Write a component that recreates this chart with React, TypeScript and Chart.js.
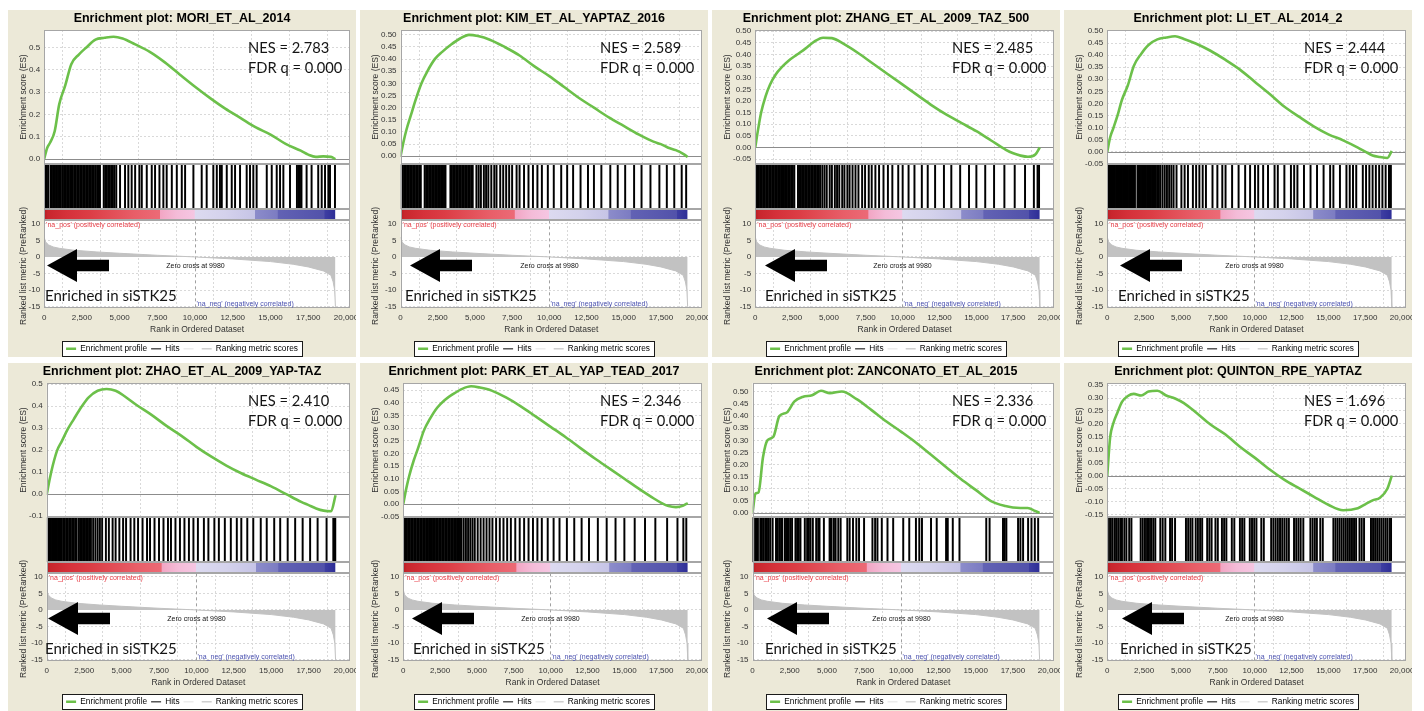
import React, { useEffect, useRef } from 'react';
import { Chart, registerables } from 'chart.js';

Chart.register(...registerables);
Chart.defaults.font.family = '"Liberation Sans", Arial, Helvetica, sans-serif';

// ---------------- data ----------------
const RANKED_LIST_SIZE = 19300;
const X_AXIS_MAX = 20265;
const ZERO_CROSS = 9980;
const xTickValues = [0, 2500, 5000, 7500, 10000, 12500, 15000, 17500, 20000];
const metricTickValues = [10, 5, 0, -5, -10, -15];

const geneSetNames = [
  'MORI_ET_AL_2014', 'KIM_ET_AL_YAPTAZ_2016', 'ZHANG_ET_AL_2009_TAZ_500', 'LI_ET_AL_2014_2',
  'ZHAO_ET_AL_2009_YAP-TAZ', 'PARK_ET_AL_YAP_TEAD_2017', 'ZANCONATO_ET_AL_2015', 'QUINTON_RPE_YAPTAZ',
];
const nesValues = ['2.783', '2.589', '2.485', '2.444', '2.410', '2.346', '2.336', '1.696'];
const fdrValues = ['0.000', '0.000', '0.000', '0.000', '0.000', '0.000', '0.000', '0.000'];

// running enrichment score, sampled at these ranks
const esRanks = [0, 200, 400, 700, 1000, 1400, 1800, 2300, 2800, 3400, 4000, 4600, 5200, 6000, 7000, 8000, 9000, 10000, 11000, 12000, 13000, 14000, 15000, 16000, 17000, 17500, 18000, 18500, 19000, 19300];
const moriES = [0, 0.05, 0.074, 0.125, 0.245, 0.33, 0.425, 0.468, 0.5, 0.535, 0.543, 0.548, 0.54, 0.515, 0.48, 0.433, 0.378, 0.324, 0.273, 0.226, 0.185, 0.143, 0.11, 0.068, 0.038, 0.02, 0.01, 0.012, 0.01, 0.0];
const kimES = [0, 0.06, 0.11, 0.17, 0.23, 0.3, 0.35, 0.4, 0.43, 0.46, 0.485, 0.5, 0.495, 0.48, 0.45, 0.415, 0.37, 0.33, 0.285, 0.24, 0.2, 0.16, 0.125, 0.09, 0.06, 0.05, 0.035, 0.025, 0.01, -0.003];
const zhangES = [0, 0.08, 0.15, 0.22, 0.27, 0.315, 0.345, 0.375, 0.398, 0.425, 0.455, 0.472, 0.47, 0.445, 0.405, 0.36, 0.315, 0.27, 0.225, 0.18, 0.14, 0.105, 0.07, 0.03, -0.01, -0.025, -0.035, -0.04, -0.03, 0];
const liES = [0, 0.06, 0.095, 0.15, 0.215, 0.275, 0.355, 0.405, 0.442, 0.465, 0.473, 0.478, 0.467, 0.448, 0.418, 0.381, 0.34, 0.29, 0.24, 0.187, 0.145, 0.105, 0.072, 0.047, 0.017, 0.0, -0.016, -0.022, -0.026, 0.003];
const zhaoES = [0, 0.07, 0.13, 0.2, 0.24, 0.295, 0.34, 0.395, 0.44, 0.47, 0.478, 0.47, 0.445, 0.405, 0.36, 0.31, 0.265, 0.215, 0.17, 0.13, 0.095, 0.065, 0.035, 0.0, -0.035, -0.05, -0.065, -0.075, -0.078, -0.005];
const parkES = [0, 0.06, 0.11, 0.17, 0.22, 0.29, 0.335, 0.38, 0.41, 0.435, 0.455, 0.465, 0.46, 0.448, 0.42, 0.385, 0.345, 0.305, 0.265, 0.222, 0.18, 0.14, 0.1, 0.06, 0.022, 0.005, -0.008, -0.012, -0.006, 0.004];
const zanconatoES = [0, 0.08, 0.085, 0.23, 0.3, 0.315, 0.4, 0.415, 0.46, 0.48, 0.486, 0.505, 0.495, 0.502, 0.47, 0.425, 0.378, 0.335, 0.29, 0.24, 0.19, 0.14, 0.095, 0.05, 0.028, 0.022, 0.02, 0.02, 0.008, 0.0];
const quintonES = [0, 0.15, 0.2, 0.245, 0.285, 0.308, 0.316, 0.31, 0.325, 0.328, 0.31, 0.298, 0.28, 0.245, 0.198, 0.16, 0.112, 0.07, 0.025, -0.015, -0.048, -0.08, -0.112, -0.133, -0.125, -0.11, -0.095, -0.085, -0.05, 0.0];

// hit positions (rank of each gene-set member)
const moriHits = [60, 160, 260, 420, 520, 620, 720, 820, 920, 1020, 1110, 1220, 1320, 1420, 1520, 1620, 1720, 1820, 1900, 2000, 2100, 2200, 2300, 2400, 2500, 2600, 2700, 2800, 2900, 3000, 3100, 3200, 3300, 3420, 3520, 3620, 3700, 3950, 4050, 4150, 4250, 4350, 4450, 4550, 4650, 4780, 5030, 5360, 5580, 5800, 6030, 6310, 6470, 6800, 7130, 7350, 7640, 7900, 8120, 8460, 8790, 9120, 9340, 9890, 10440, 10770, 11210, 11440, 11650, 11770, 12100, 12430, 12650, 12980, 13420, 13640, 13860, 14080, 14750, 15080, 15410, 15630, 15850, 16290, 16750, 16850, 16950, 17050, 17390, 17720, 18160, 18390, 18610, 18830, 18940, 19270];
const kimHits = [60, 160, 260, 360, 460, 560, 660, 760, 860, 960, 1060, 1160, 1260, 1360, 1620, 1720, 1820, 1920, 2020, 2120, 2220, 2320, 2420, 2520, 2620, 2720, 2820, 2920, 3020, 3350, 3450, 3550, 3650, 3750, 3850, 3950, 4050, 4150, 4250, 4350, 4450, 4550, 4650, 4750, 4850, 5100, 5250, 5400, 5600, 5750, 5900, 6100, 6300, 6450, 6700, 6900, 7100, 7300, 7500, 7800, 8000, 8300, 8600, 8900, 9200, 9500, 9900, 10300, 10800, 11200, 11600, 12100, 12600, 13000, 13500, 14100, 14600, 15100, 15700, 16200, 16800, 17400, 17900, 18400, 18900, 19200];
const zhangHits = [50, 150, 250, 350, 450, 550, 650, 750, 850, 950, 1050, 1150, 1250, 1350, 1450, 1550, 1650, 1750, 1850, 1950, 2050, 2150, 2250, 2350, 2450, 2550, 2650, 2900, 3000, 3100, 3200, 3300, 3400, 3500, 3600, 3700, 3800, 3900, 4000, 4100, 4200, 4300, 4400, 4550, 4700, 4850, 5050, 5200, 5400, 5550, 5700, 5900, 6050, 6250, 6400, 6600, 6800, 7000, 7250, 7450, 7700, 7900, 8150, 8400, 8700, 9000, 9300, 9700, 10000, 10400, 10800, 11300, 11700, 12200, 12800, 13300, 13900, 14500, 15000, 15600, 16200, 16900, 17600, 18300, 18900, 19150, 19250];
const liHits = [40, 120, 200, 280, 360, 440, 520, 600, 680, 760, 840, 920, 1000, 1080, 1160, 1240, 1320, 1400, 1480, 1560, 1640, 1720, 1800, 1880, 2050, 2130, 2210, 2290, 2370, 2450, 2530, 2610, 2700, 2800, 2880, 2960, 3040, 3120, 3200, 3300, 3400, 3500, 3600, 3750, 3900, 4050, 4200, 4350, 4500, 4700, 5030, 5250, 5475, 5810, 6030, 6250, 6475, 6695, 7140, 7470, 7805, 8025, 8470, 8910, 9355, 9690, 10020, 10240, 10575, 10905, 11350, 11570, 12015, 12460, 12680, 12900, 13345, 13790, 14230, 14675, 15120, 15340, 15785, 16225, 16450, 16670, 16890, 17335, 17555, 17780, 18000, 18220, 18445, 18665, 18885, 19110, 19180, 19240];
const zhaoHits = [40, 120, 200, 280, 360, 440, 520, 600, 680, 760, 840, 920, 1000, 1100, 1200, 1300, 1400, 1500, 1600, 1700, 1800, 1900, 2000, 2150, 2250, 2350, 2450, 2550, 2650, 2750, 2850, 2950, 3100, 3250, 3400, 3550, 3700, 3950, 4150, 4400, 4600, 4850, 5100, 5300, 5600, 5850, 6100, 6400, 6700, 6900, 7200, 7500, 7800, 8100, 8300, 8600, 8900, 9200, 9500, 9800, 10100, 10500, 10800, 11200, 11500, 11900, 12300, 12700, 13000, 13400, 13800, 14300, 14700, 15200, 15600, 16100, 16600, 17100, 17600, 18100, 18700, 19150, 19220, 19280];
const parkHits = [50, 150, 250, 350, 450, 550, 650, 750, 850, 950, 1050, 1150, 1250, 1350, 1450, 1550, 1650, 1750, 1850, 1950, 2050, 2150, 2250, 2350, 2450, 2550, 2650, 2750, 2850, 2950, 3050, 3150, 3250, 3350, 3450, 3550, 3650, 3750, 3850, 3950, 4100, 4250, 4400, 4550, 4700, 4850, 5050, 5250, 5450, 5650, 5850, 6050, 6300, 6550, 6800, 7050, 7300, 7600, 7900, 8200, 8500, 8800, 9100, 9400, 9800, 10200, 10600, 11100, 11600, 12100, 12600, 13200, 13800, 14400, 15000, 15700, 16400, 17100, 17900, 18600, 19000, 19200];
const zanconatoHits = [22, 67, 181, 293, 360, 518, 630, 743, 856, 968, 1080, 1193, 1350, 1576, 1688, 1800, 1914, 1981, 2160, 2251, 2341, 2431, 2544, 2656, 2882, 2994, 3106, 3219, 3512, 3669, 3782, 3894, 4052, 4278, 4413, 4502, 4795, 5178, 5245, 5312, 5469, 5582, 5762, 5920, 6370, 6528, 6752, 6978, 7158, 7496, 8059, 8239, 8396, 8688, 9071, 9453, 10129, 10534, 10983, 11209, 11389, 11997, 12380, 13010, 13122, 13460, 13910, 15711, 15935, 16836, 16948, 17062, 17849, 18007, 18187, 18524, 18750, 18975, 19200];
const quintonHits = [44, 190, 330, 480, 600, 740, 880, 1000, 1160, 1300, 1490, 1640, 2270, 2410, 2560, 2700, 2830, 2970, 3120, 3260, 3600, 3760, 3940, 4260, 4400, 4600, 5340, 5490, 5640, 5780, 6000, 6150, 6300, 6440, 6780, 6930, 7080, 7340, 7500, 7780, 7930, 8080, 8450, 8620, 9000, 9150, 9300, 9670, 9820, 9970, 10120, 10450, 10620, 11120, 11270, 11420, 11570, 11720, 11870, 12020, 12170, 12320, 12670, 12820, 12970, 13120, 13300, 13780, 13930, 14080, 14220, 14450, 14620, 15340, 15480, 15620, 15760, 15900, 16040, 16180, 16320, 16460, 16600, 16740, 16880, 17110, 17260, 17420, 17890, 18030, 18170, 18310, 18450, 18590, 18730, 18870, 19000, 19150, 19250];

// ranked list metric (same pre-ranked list for all panels)
const metricRanks = [0, 100, 300, 600, 1000, 2000, 3500, 5000, 7500, 9980, 12500, 15000, 16500, 17500, 18500, 19000, 19150, 19250, 19300];
const metricValues = [6, 4.5, 3.6, 3.0, 2.6, 2.0, 1.5, 1.1, 0.5, 0, -0.6, -1.4, -2.2, -3.0, -4.2, -5.5, -7.5, -10, -15];

// colour bar (correlation heat strip)
const colorStopRanks = [0, 250, 1500, 3000, 4500, 6000, 7650, 7700, 8800, 9950, 10000, 12000, 13950, 14000, 15450, 15500, 18550, 18600, 19300];
const colorStopColors = ['#b31d24', '#c8262d', '#d5313a', '#dc3d45', '#e24e57', '#e85e68', '#ec6a76', '#f2a6c4', '#f4bcd8', '#f5c6e2', '#dcdaf0', '#d4d2ec', '#c6c4e6', '#8c8cca', '#7c7cc2', '#6262b4', '#5252aa', '#3e3ea2', '#2e2e96'];

// y-axis ticks for the ES panels
const esTicksMori = [0, 0.1, 0.2, 0.3, 0.4, 0.5];
const esTicksKim = [0, 0.05, 0.1, 0.15, 0.2, 0.25, 0.3, 0.35, 0.4, 0.45, 0.5];
const esTicksZhang = [-0.05, 0, 0.05, 0.1, 0.15, 0.2, 0.25, 0.3, 0.35, 0.4, 0.45, 0.5];
const esTicksLi = [-0.05, 0, 0.05, 0.1, 0.15, 0.2, 0.25, 0.3, 0.35, 0.4, 0.45, 0.5];
const esTicksZhao = [-0.1, 0, 0.1, 0.2, 0.3, 0.4, 0.5];
const esTicksPark = [-0.05, 0, 0.05, 0.1, 0.15, 0.2, 0.25, 0.3, 0.35, 0.4, 0.45];
const esTicksZanconato = [0, 0.05, 0.1, 0.15, 0.2, 0.25, 0.3, 0.35, 0.4, 0.45, 0.5];
const esTicksQuinton = [-0.15, -0.1, -0.05, 0, 0.05, 0.1, 0.15, 0.2, 0.25, 0.3, 0.35];
const esAxisMin = [-0.023, -0.033, -0.072, -0.052, -0.105, -0.052, -0.018, -0.16];
const esAxisMax = [0.578, 0.52, 0.505, 0.504, 0.505, 0.478, 0.537, 0.358];
const esDecimals = [1, 2, 2, 2, 1, 2, 2, 2];

const esSeries = [moriES, kimES, zhangES, liES, zhaoES, parkES, zanconatoES, quintonES];
const hitSeries = [moriHits, kimHits, zhangHits, liHits, zhaoHits, parkHits, zanconatoHits, quintonHits];
const esTickSeries = [esTicksMori, esTicksKim, esTicksZhang, esTicksLi, esTicksZhao, esTicksPark, esTicksZanconato, esTicksQuinton];

// ---------------- layout / style ----------------
const PANEL_W = 348;
const CANVAS_W = 368;
const CANVAS_H = 353;
const arrowTipX = [39, 50, 53, 56, 40, 52, 55, 58];
const enrichedTextX = [37, 45, 53, 54, 37, 53, 53, 56];
const GREEN = '#6cc04a';
const GRID = '#d9d9d9';
const AXIS_TEXT = '#333333';
const Y_TITLE_PAD_TOP = 4.3;

const gseaDecor = {
  id: 'gseaDecor',
  beforeDraw(chart: any) {
    const { ctx, chartArea: ca } = chart;
    ctx.save();
    ctx.fillStyle = '#ffffff';
    ctx.fillRect(ca.left, ca.top, ca.right - ca.left, ca.bottom - ca.top);
    const lg = chart.legend;
    if (lg && lg.legendHitBoxes && lg.legendHitBoxes.length) {
      const hb = lg.legendHitBoxes;
      const l = Math.round(Math.min(...hb.map((h: any) => h.left)) - 4) + 0.5;
      const r = Math.round(Math.max(...hb.map((h: any) => h.left + h.width)) + 4) + 0.5;
      const t = Math.round(hb[0].top + hb[0].height / 2 - 7.5) + 0.5;
      ctx.fillStyle = '#ffffff';
      ctx.fillRect(l, t, r - l, 15);
      ctx.strokeStyle = '#1a1a1a';
      ctx.lineWidth = 1;
      ctx.strokeRect(l, t, r - l, 15);
    }
    ctx.restore();
  },
  beforeDatasetsDraw(chart: any) {
    const { ctx, chartArea: ca, scales } = chart;
    ctx.save();
    ctx.fillStyle = '#ffffff';
    for (const id of ['yHits', 'yBar']) {
      const s = scales[id];
      ctx.fillRect(ca.left, s.top, ca.right - ca.left, s.bottom - s.top);
    }
    const y0 = Math.round(scales.yES.getPixelForValue(0)) + 0.5;
    ctx.strokeStyle = '#8c8c8c';
    ctx.lineWidth = 1;
    ctx.beginPath();
    ctx.moveTo(ca.left, y0);
    ctx.lineTo(ca.right, y0);
    ctx.stroke();
    const xz = Math.round(scales.x.getPixelForValue(ZERO_CROSS)) + 0.5;
    ctx.setLineDash([3, 3]);
    ctx.strokeStyle = '#a0a0a0';
    ctx.beginPath();
    ctx.moveTo(xz, scales.yMetric.top);
    ctx.lineTo(xz, scales.yMetric.bottom);
    ctx.stroke();
    ctx.restore();
  },
  afterDatasetsDraw(chart: any, _args: any, opts: any) {
    const { ctx, chartArea: ca, scales } = chart;
    const ym = scales.yMetric;
    ctx.save();
    // section outlines
    ctx.strokeStyle = '#a6a6a6';
    ctx.lineWidth = 1;
    const L = Math.round(ca.left) + 0.5;
    const R = Math.round(ca.right) - 0.5;
    for (const id of ['yES', 'yHits', 'yBar', 'yMetric']) {
      const s = scales[id];
      const top = Math.round(s.top) + 0.5;
      const bot = Math.round(s.bottom) - 0.5;
      ctx.strokeRect(L, top, R - L, bot - top);
    }
    // metric annotations
    const xz = Math.round(scales.x.getPixelForValue(ZERO_CROSS)) + 0.5;
    ctx.font = '7px "Liberation Sans", Arial, sans-serif';
    ctx.textBaseline = 'middle';
    ctx.textAlign = 'left';
    ctx.fillStyle = '#e8404a';
    ctx.fillText("'na_pos' (positively correlated)", ca.left + 2, ym.top + 5);
    ctx.fillStyle = '#111111';
    ctx.textAlign = 'center';
    ctx.fillText('Zero cross at ' + ZERO_CROSS, xz, ym.getPixelForValue(-2.7));
    ctx.textAlign = 'left';
    ctx.fillStyle = '#4b52b0';
    ctx.fillText("'na_neg' (negatively correlated)", xz + 1, ym.bottom - 3);
    // metric axis title (drawn manually so it is not squeezed into the short section)
    const tx = scales.yES.left + Y_TITLE_PAD_TOP + 5.1;
    ctx.save();
    ctx.translate(tx, (ym.top + ym.bottom) / 2 + 2);
    ctx.rotate(-Math.PI / 2);
    ctx.font = '8.5px "Liberation Sans", Arial, sans-serif';
    ctx.fillStyle = AXIS_TEXT;
    ctx.textAlign = 'center';
    ctx.fillText('Ranked list metric (PreRanked)', 0, 0);
    ctx.restore();
    // arrow
    const ax = opts.arrowX;
    const ay = ca.bottom - 42;
    ctx.fillStyle = '#000000';
    ctx.beginPath();
    ctx.moveTo(ax, ay);
    ctx.lineTo(ax + 30, ay - 16.5);
    ctx.lineTo(ax + 30, ay - 5.8);
    ctx.lineTo(ax + 62, ay - 5.8);
    ctx.lineTo(ax + 62, ay + 5.8);
    ctx.lineTo(ax + 30, ay + 5.8);
    ctx.lineTo(ax + 30, ay + 16.5);
    ctx.closePath();
    ctx.fill();
    // overlay labels
    ctx.textBaseline = 'alphabetic';
    ctx.textAlign = 'left';
    ctx.fillStyle = '#141414';
    ctx.font = '15px Lato, "Noto Sans", sans-serif';
    ctx.fillText('Enriched in siSTK25', opts.textX, ca.bottom - 6.5);
    ctx.font = '14.7px Lato, "Noto Sans", sans-serif';
    ctx.fillText('NES = ' + opts.nes, 240, 42.5);
    ctx.fillText('FDR q = ' + opts.fdr, 240, 62.5);
    ctx.restore();
  },
};

function buildConfig(i: number): any {
  const es = esSeries[i];
  const ticks = esTickSeries[i];
  const dec = esDecimals[i];
  return {
    type: 'line',
    data: {
      datasets: [
        {
          label: 'Enrichment profile',
          type: 'line',
          yAxisID: 'yES',
          data: esRanks.map((r, k) => ({ x: r, y: es[k] })),
          borderColor: GREEN,
          borderWidth: 2.6,
          pointRadius: 0,
          cubicInterpolationMode: 'monotone',
          fill: false,
        },
        {
          label: 'Hits',
          type: 'bar',
          yAxisID: 'yHits',
          data: hitSeries[i].map((r) => ({ x: r, y: [0, 1] })),
          backgroundColor: '#000000',
          borderWidth: 0,
          barThickness: 1.3,
          grouped: false,
        },
        {
          label: 'Colour bar',
          type: 'line',
          yAxisID: 'yBar',
          data: [{ x: 0, y: 1 }, { x: RANKED_LIST_SIZE, y: 1 }],
          borderWidth: 0,
          borderColor: 'rgba(0,0,0,0)',
          pointRadius: 0,
          fill: 'origin',
          backgroundColor: (c: any) => {
            const chart = c.chart;
            const xs = chart.scales && chart.scales.x;
            if (!chart.chartArea || !xs) return colorStopColors[0];
            const x0 = xs.getPixelForValue(0);
            const x1 = xs.getPixelForValue(RANKED_LIST_SIZE);
            const g = chart.ctx.createLinearGradient(x0, 0, x1, 0);
            colorStopRanks.forEach((r, k) => g.addColorStop(Math.min(1, r / RANKED_LIST_SIZE), colorStopColors[k]));
            return g;
          },
        },
        {
          label: 'Ranking metric scores',
          type: 'line',
          yAxisID: 'yMetric',
          data: metricRanks.map((r, k) => ({ x: r, y: metricValues[k] })),
          borderColor: '#c2c2c2',
          backgroundColor: '#c2c2c2',
          borderWidth: 1,
          pointRadius: 0,
          fill: 'origin',
        },
      ],
    },
    options: {
      responsive: false,
      animation: false,
      devicePixelRatio: 1,
      events: [],
      layout: { padding: { left: 6, right: 26, top: 0, bottom: 0 } },
      scales: {
        x: {
          type: 'linear',
          min: 0,
          max: X_AXIS_MAX,
          offset: false,
          afterBuildTicks: (s: any) => { s.ticks = xTickValues.map((v) => ({ value: v })); },
          ticks: {
            font: { size: 8 },
            color: AXIS_TEXT,
            padding: 5,
            autoSkip: false,
            maxRotation: 0,
            callback: (v: number) => Number(v).toLocaleString('en-US'),
          },
          grid: { color: GRID, drawTicks: false },
          border: { display: false, dash: [2, 2] },
          title: { display: true, text: 'Rank in Ordered Dataset', font: { size: 8.5 }, color: AXIS_TEXT, padding: { top: -2.2, bottom: 5.6 } },
        },
        yES: {
          type: 'linear',
          position: 'left',
          stack: 'gsea',
          stackWeight: 134,
          weight: 4,
          min: esAxisMin[i],
          max: esAxisMax[i],
          afterBuildTicks: (s: any) => { s.ticks = ticks.map((v) => ({ value: v })); },
          ticks: { font: { size: 8 }, color: AXIS_TEXT, padding: 4, autoSkip: false, callback: (v: number) => Number(v).toFixed(dec) },
          grid: { color: GRID, drawTicks: false },
          border: { display: false, dash: [2, 2] },
          title: { display: true, text: 'Enrichment score (ES)', font: { size: 8.5 }, color: AXIS_TEXT, padding: { top: Y_TITLE_PAD_TOP, bottom: -3.5 } },
        },
        yHits: { type: 'linear', position: 'left', stack: 'gsea', stackWeight: 45, weight: 3, min: 0, max: 1, display: false },
        yBar: { type: 'linear', position: 'left', stack: 'gsea', stackWeight: 11, weight: 2, min: 0, max: 1, display: false },
        yMetric: {
          type: 'linear',
          position: 'left',
          stack: 'gsea',
          stackWeight: 87,
          weight: 1,
          min: -15.2,
          max: 11,
          afterBuildTicks: (s: any) => { s.ticks = metricTickValues.map((v) => ({ value: v })); },
          ticks: { font: { size: 8 }, color: AXIS_TEXT, padding: 4, autoSkip: false, callback: (v: number) => String(v) },
          grid: { color: GRID, drawTicks: false },
          border: { display: false, dash: [2, 2] },
          title: { display: false },
        },
      },
      plugins: {
        tooltip: { enabled: false },
        title: {
          display: true,
          text: 'Enrichment plot: ' + geneSetNames[i],
          font: { size: 12.5, weight: 'bold' },
          color: '#000000',
          padding: { top: 1, bottom: 4 },
        },
        legend: {
          display: true,
          position: 'bottom',
          onClick: () => {},
          labels: {
            usePointStyle: true,
            pointStyleWidth: 10,
            padding: 4,
            color: '#111111',
            font: { size: 8.3 },
            generateLabels: () => [
              { text: 'Enrichment profile', strokeStyle: GREEN, fillStyle: GREEN, lineWidth: 2.5, pointStyle: 'line', hidden: false },
              { text: 'Hits', strokeStyle: '#000000', fillStyle: '#000000', lineWidth: 1, pointStyle: 'line', hidden: false },
              { text: '', strokeStyle: '#e2e2e2', fillStyle: '#e2e2e2', lineWidth: 1, pointStyle: 'line', hidden: false },
              { text: 'Ranking metric scores', strokeStyle: '#b8b8b8', fillStyle: '#b8b8b8', lineWidth: 1, pointStyle: 'line', hidden: false },
            ],
          },
        },
        gseaDecor: { arrowX: arrowTipX[i], textX: enrichedTextX[i], nes: nesValues[i], fdr: fdrValues[i] },
      },
    },
    plugins: [gseaDecor],
  };
}

function Panel({ index, height }: { index: number; height: number }) {
  const ref = useRef<HTMLCanvasElement>(null);
  useEffect(() => {
    if (!ref.current) return;
    const chart = new Chart(ref.current, buildConfig(index));
    return () => chart.destroy();
  }, [index]);
  return (
    <div style={{ position: 'relative', width: PANEL_W, height, background: '#ECE9D8', overflow: 'hidden' }}>
      <canvas
        ref={ref}
        width={CANVAS_W}
        height={CANVAS_H}
        style={{ position: 'absolute', left: 0, top: 0, width: CANVAS_W, height: CANVAS_H }}
      />
    </div>
  );
}

export default function App() {
  return (
    <div style={{ position: 'relative', width: 1424, height: 711, overflow: 'hidden', background: '#ffffff' }}>
      <style>{'html,body{margin:0;padding:0;overflow:hidden;background:#fff}'}</style>
      <div
        style={{
          position: 'absolute',
          left: 8,
          top: 10,
          display: 'grid',
          gridTemplateColumns: 'repeat(4, 348px)',
          gridTemplateRows: '347px 348px',
          columnGap: 4,
          rowGap: 6,
        }}
      >
        {geneSetNames.map((_, i) => (
          <Panel key={i} index={i} height={i < 4 ? 347 : 348} />
        ))}
      </div>
    </div>
  );
}
